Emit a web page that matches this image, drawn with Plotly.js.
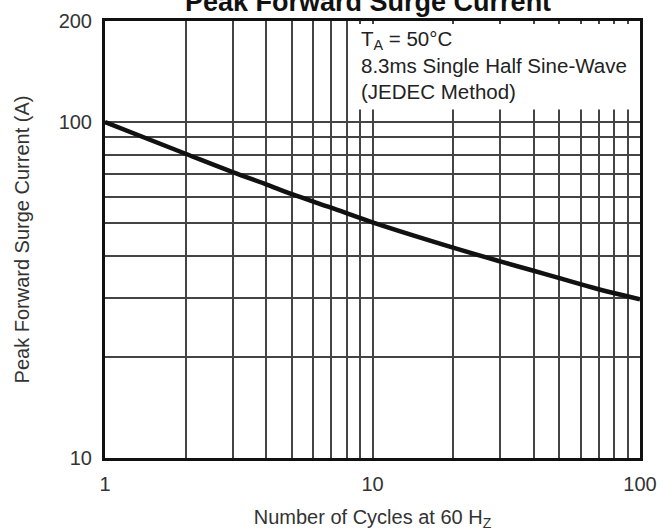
<!DOCTYPE html>
<html>
<head>
<meta charset="utf-8">
<script src="https://cdn.plot.ly/plotly-3.0.1.min.js"></script>
<style>html,body{margin:0;padding:0;background:#fff;}#chart{width:662px;height:531px;}</style>
</head>
<body>
<div id="chart"></div>
<script>
// Data
var cycles = [1, 2, 3, 4, 5, 7, 10, 20, 30, 40, 50, 70, 100];
var surgeCurrent = [100, 80.5, 71, 65.3, 61, 55.6, 50.3, 42.3, 38.5, 36.1, 34.3, 31.8, 29.7];

var xTickVals = [1, 2, 3, 4, 5, 6, 7, 8, 9, 10, 20, 30, 40, 50, 60, 70, 80, 90, 100];
var xTickText = ['1', '', '', '', '', '', '', '', '', '10', '', '', '', '', '', '', '', '', '100'];
var yTickVals = [10, 20, 30, 40, 50, 60, 70, 80, 90, 100, 200];
var yTickText = ['10', '', '', '', '', '', '', '', '', '100', '200'];

var noteLines = ['T<sub>A</sub> = 50°C', '8.3ms Single Half Sine-Wave', '(JEDEC Method)'];

var trace = {
  x: cycles,
  y: surgeCurrent,
  type: 'scatter',
  mode: 'lines',
  line: {color: '#111', width: 4.5, shape: 'spline', smoothing: 1},
  hoverinfo: 'skip'
};

var layout = {
  width: 662,
  height: 531,
  margin: {l: 105, r: 22, t: 21, b: 73},
  paper_bgcolor: '#fff',
  plot_bgcolor: '#fff',
  showlegend: false,
  font: {family: 'Liberation Sans, Arial, sans-serif', color: '#333', size: 20},
  title: {
    text: '<b>Peak Forward Surge Current</b>',
    font: {size: 27, color: '#111'},
    x: 0.556, xanchor: 'center',
    yref: 'container', y: 0.998, yanchor: 'middle'
  },
  xaxis: {
    type: 'log',
    range: [0, 2],
    tickvals: xTickVals,
    ticktext: xTickText,
    ticks: '',
    showgrid: true,
    gridcolor: '#444',
    gridwidth: 2,
    showline: true,
    linecolor: '#111',
    linewidth: 3,
    mirror: true,
    zeroline: false,
    tickfont: {size: 20, color: '#333'},
    ticklabelstandoff: 6,
    title: {text: 'Number of Cycles at 60 H<sub>Z</sub>', font: {size: 20, color: '#333'}, standoff: 22}
  },
  yaxis: {
    type: 'log',
    range: [1, Math.log10(200)],
    tickvals: yTickVals,
    ticktext: yTickText,
    ticks: '',
    showgrid: true,
    gridcolor: '#444',
    gridwidth: 2,
    showline: true,
    linecolor: '#111',
    linewidth: 3,
    mirror: true,
    zeroline: false,
    tickfont: {size: 20, color: '#333'},
    ticklabelstandoff: 6,
    title: {text: 'Peak Forward Surge Current (A)', font: {size: 20, color: '#333'}, standoff: 24}
  },
  shapes: [{
    type: 'rect', layer: 'between',
    xref: 'x', yref: 'y',
    x0: 8.4, x1: 100, y0: 109, y1: 196,
    fillcolor: '#fff', line: {width: 0}
  }],
  annotations: [{
    xref: 'paper', yref: 'paper',
    x: 0.474, y: 0.99, xanchor: 'left', yanchor: 'top',
    align: 'left',
    showarrow: false,
    text: noteLines.join('<br>'),
    font: {size: 20.5, color: '#222'}
  }]
};

Plotly.newPlot('chart', [trace], layout, {displayModeBar: false, staticPlot: true});
</script>
</body>
</html>
